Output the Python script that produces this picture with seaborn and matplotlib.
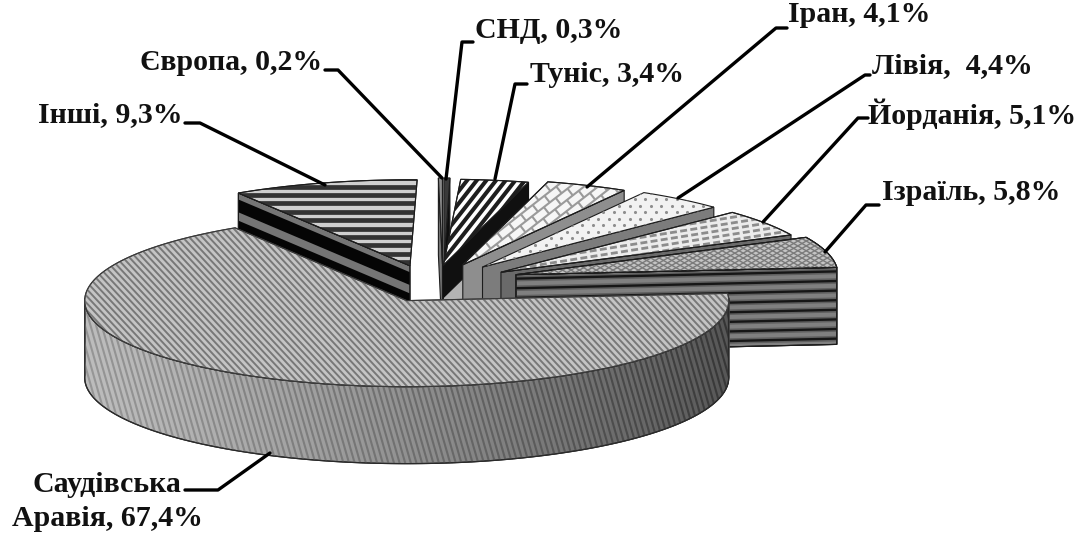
import numpy as np
import pandas as pd
import seaborn as sns
import matplotlib
matplotlib.use("Agg")
import matplotlib.pyplot as plt
from matplotlib.patches import Polygon
from matplotlib.collections import LineCollection

# Oil import shares, clockwise from the top of the pie
names = ["СНД", "Туніс", "Іран", "Лівія", "Йорданія", "Ізраїль",
         "Саудівська\nАравія", "Інші", "Європа"]
shares = [0.3, 3.4, 4.1, 4.4, 5.1, 5.8, 67.4, 9.3, 0.2]
label_separators = [", ", ", ", ", ", ",  ", ", ", ", ", ", ", ", ", ", "]

sns.set_theme(style="white")
plt.rcParams["font.family"] = ["Liberation Serif", "DejaVu Serif"]

fig = plt.figure(figsize=(10.9, 5.36), dpi=100)
ax = fig.add_axes([0, 0, 1, 1])

# Projection of the tilted pie onto the page (page units are pixels)
CX, CY = 434, 286
RX, RY = 322, 86
DEPTH = 77
ROTATION = 2.0
EXPLODE = 0.28
EXPLODE_MAIN = 0.19
FONT_SIZE = 21.5

# Small page shifts of the pulled-out slices
shift = {"СНД": (9, 2), "Європа": (9, 2), "Туніс": (-5, 3), "Іран": (-6, 1), "Лівія": (-7, 0),
         "Йорданія": (-7, 0), "Ізраїль": (-5, -5), "Інші": (0, 3)}

z_counter = [10]


def next_z():
    z_counter[0] += 1
    return z_counter[0]


def on_plane(theta, r, origin):
    t = np.radians(theta)
    return np.array([origin[0] + RX * r * np.sin(t), origin[1] - RY * r * np.cos(t)])


def face(xy, color, edge="#1c1c1c", lw=0.8):
    patch = Polygon(xy, closed=True, facecolor=color, edgecolor=edge, linewidth=lw, zorder=next_z())
    ax.add_patch(patch)
    return patch


def stripes(patch, angle, spacing, lw, color, phase=0.0, dashes=None):
    """Parallel lines across a face, clipped to its outline."""
    xy = patch.get_xy()
    c = xy.mean(axis=0)
    diag = np.hypot(*(xy.max(axis=0) - xy.min(axis=0))) + 10
    a = np.radians(angle)
    d = np.array([np.cos(a), np.sin(a)])
    n = np.array([-d[1], d[0]])
    k = np.arange(-int(diag / spacing) - 1, int(diag / spacing) + 2)
    segs = [[c + n * (i * spacing + phase) - d * diag, c + n * (i * spacing + phase) + d * diag] for i in k]
    colors = [color(s[0], s[1]) for s in segs] if callable(color) else color
    lc = LineCollection(segs, colors=colors, linewidths=lw, zorder=next_z(),
                        linestyles=dashes if dashes else "solid")
    ax.add_collection(lc)
    lc.set_clip_path(patch)
    # re-stroke the outline above the stripes
    outline = Polygon(xy, closed=True, fill=False, edgecolor=patch.get_edgecolor(),
                      linewidth=patch.get_linewidth(), zorder=next_z())
    ax.add_patch(outline)


def bricks(patch, angle, row, length, lw, color):
    xy = patch.get_xy()
    c = xy.mean(axis=0)
    diag = np.hypot(*(xy.max(axis=0) - xy.min(axis=0))) + 10
    a = np.radians(angle)
    d = np.array([np.cos(a), np.sin(a)])
    n = np.array([-d[1], d[0]])
    segs = []
    rows = int(diag / row) + 1
    for i in range(-rows, rows + 1):
        p0 = c + n * i * row
        segs.append([p0 - d * diag, p0 + d * diag])
        for j in range(-int(diag / length) - 1, int(diag / length) + 2):
            p1 = p0 + d * (j + 0.5 * (i % 2)) * length
            segs.append([p1, p1 + n * row])
    lc = LineCollection(segs, colors=color, linewidths=lw, zorder=next_z())
    ax.add_collection(lc)
    lc.set_clip_path(patch)
    ax.add_patch(Polygon(xy, closed=True, fill=False, edgecolor=patch.get_edgecolor(),
                         linewidth=patch.get_linewidth(), zorder=next_z()))


def dots(patch, step, size, color):
    xy = patch.get_xy()
    lo, hi = xy.min(axis=0), xy.max(axis=0)
    gx, gy = np.meshgrid(np.arange(lo[0], hi[0], step), np.arange(lo[1], hi[1], step * 0.62))
    gx = gx + (np.arange(gx.shape[0])[:, None] % 2) * step / 2
    pts = ax.scatter(gx.ravel(), gy.ravel(), s=size, c=color, linewidths=0, zorder=next_z())
    pts.set_clip_path(patch)


def build_slice(name, start, end, explode):
    mid = (start + end) / 2
    apex = on_plane(mid, explode, (CX, CY)) + np.array(shift.get(name, (0, 0)))
    th = np.linspace(start, end, max(4, int(abs(end - start) * 2)))
    arc = np.array([on_plane(t, 1.0, apex) for t in th])
    down = np.array([0, DEPTH])
    top = np.vstack([apex, arc])
    wall_end = np.array([apex, arc[-1], arc[-1] + down, apex + down])
    wall_start = np.array([apex, arc[0], arc[0] + down, apex + down])
    return dict(apex=apex, th=th, arc=arc, top=top, wall_end=wall_end, wall_start=wall_start, down=down)


def edge_angle(wall):
    v = wall[1] - wall[0]
    return np.degrees(np.arctan2(v[1], v[0]))


bounds = ROTATION + np.concatenate([[0], np.cumsum(shares)]) * 3.6
S = {n: (bounds[i], bounds[i + 1]) for i, n in enumerate(names)}
# The two hairline wedges meet at the very top of the pie
S["Європа"] = (-shares[8] * 3.6, 0.0)
S["СНД"] = (0.0, shares[0] * 3.6)

# Thin wedges at the back of the pie
g = build_slice("Європа", *S["Європа"], EXPLODE)
face(g["wall_start"], "#747474")
face(g["top"], "#8a8a8a")

g = build_slice("СНД", *S["СНД"], EXPLODE)
face(g["wall_end"], "#0e0e0e")
face(g["top"], "#3a3a3a")

g = build_slice("Туніс", *S["Туніс"], EXPLODE)
w = g["wall_end"]
face(w, "#b4b4b4")
upper = np.array([w[0], w[1], w[1] + 0.42 * g["down"], w[0] + 0.42 * g["down"]])
face(upper, "#101010", edge="#101010")
p = face(g["top"], "#ffffff")
stripes(p, -52, 7.6, 2.9, "#1e1e1e")

g = build_slice("Іран", *S["Іран"], EXPLODE)
w = g["wall_end"]
face(w, "#8e8e8e")
p = face(g["top"], "#f6f6f6")
bricks(p, -38, 8.6, 15, 1.5, "#9a9a9a")

g = build_slice("Лівія", *S["Лівія"], EXPLODE)
face(g["wall_end"], "#7c7c7c")
p = face(g["top"], "#f2f2f2")
dots(p, 10.5, 5, "#8e8e8e")

g = build_slice("Йорданія", *S["Йорданія"], EXPLODE)
face(g["wall_end"], "#6a6a6a")
p = face(g["top"], "#ececec")
stripes(p, -9, 5.6, 2.0, "#8c8c8c", dashes=(0, (2.5, 1.2)))

g = build_slice("Ізраїль", *S["Ізраїль"], EXPLODE)
w = face(g["wall_end"], "#808080")
stripes(w, edge_angle(g["wall_end"]), 9.6, 4.0, "#5f5f5f", phase=2)
stripes(w, edge_angle(g["wall_end"]), 9.6, 1.7, "#161616", phase=2)
p = face(g["top"], "#c4c4c4")
stripes(p, 30, 4.2, 1.0, "#7a7a7a")
stripes(p, -30, 4.2, 1.0, "#7a7a7a")

g = build_slice("Інші", *S["Інші"], EXPLODE)
w = face(g["wall_start"], "#757575")
stripes(w, edge_angle(g["wall_start"]), 19.5, 8.5, "#050505", phase=-3)
p = face(g["top"], "#cfcfcf")
stripes(p, 0, 8.4, 3.4, "#333333")

# The large front slice with its curved outer wall
g = build_slice("Саудівська\nАравія", *S["Саудівська\nАравія"], EXPLODE_MAIN)
th, arc = g["th"], g["arc"]
visible = (th >= 88) & (th <= 272)
front = arc[visible]
wall_xy = np.vstack([front, (front + g["down"])[::-1]])


def wall_base(x):
    f = np.clip((x - 84) / 644, 0, 1)
    return 0.74 - 0.40 * f ** 1.2


for i in np.arange(0, len(front) - 1):
    q = np.array([front[i], front[i + 1], front[i + 1] + g["down"], front[i] + g["down"]])
    v = wall_base(q[:, 0].mean())
    ax.add_patch(Polygon(q, closed=True, facecolor=(v, v, v), edgecolor=(v, v, v), linewidth=0.6, zorder=z_counter[0] + 1))
next_z()
wall_outline = Polygon(wall_xy, closed=True, fill=False, edgecolor="#2a2a2a", linewidth=0.9, zorder=next_z())
ax.add_patch(wall_outline)


def stripe_gray(p0, p1):
    xm = (p0[0] + p1[0]) / 2
    v = wall_base(xm) - 0.14
    return (v, v, v)


stripes(wall_outline, 74, 5.4, 1.5, stripe_gray)
p = face(g["top"], "#c4c4c4", edge="#3a3a3a", lw=0.8)
stripes(p, 47, 4.8, 1.4, "#787878")

# Value labels and their leader lines
label_texts = [f"{n}{sep}{str(v).replace('.', ',')}%" for n, sep, v in zip(names, label_separators, shares)]
label_anchor = [(475, 31), (530, 74), (788, 14), (872, 66), (868, 114), (882, 193), (None, None), (38, 115), (140, 62)]
leaders = [
    [(446, 179), (462, 42), (473, 42)],
    [(495, 179), (515, 84), (527, 84)],
    [(587, 187), (776, 28), (787, 28)],
    [(678, 198), (865, 75), (870, 75)],
    [(763, 222), (858, 118), (868, 118)],
    [(825, 252), (866, 205), (879, 205)],
    [(270, 453), (218, 490), (185, 490)],
    [(325, 185), (200, 123), (185, 123)],
    [(442, 178), (338, 70), (325, 70)],
]
for path in leaders:
    xs, ys = zip(*path)
    sns.lineplot(x=list(xs), y=list(ys), sort=False, estimator=None, color="black",
                 linewidth=2.4, ax=ax, legend=False, zorder=next_z())

for text, (x, y) in zip(label_texts, label_anchor):
    if x is None:
        continue
    ax.text(x, y, text, fontsize=FONT_SIZE, fontweight="bold", color="#111111", ha="left", va="center", zorder=next_z())

first, second = label_texts[6].split("\n")
ax.text(32, 484, first, fontsize=FONT_SIZE, fontweight="bold", color="#111111", ha="left", va="center", zorder=next_z())
ax.text(12, 519, second, fontsize=FONT_SIZE, fontweight="bold", color="#111111", ha="left", va="center", zorder=next_z())

ax.set_xlim(0, 1090)
ax.set_ylim(536, 0)
ax.axis("off")
fig.savefig("out.png", dpi=100, facecolor="white")
